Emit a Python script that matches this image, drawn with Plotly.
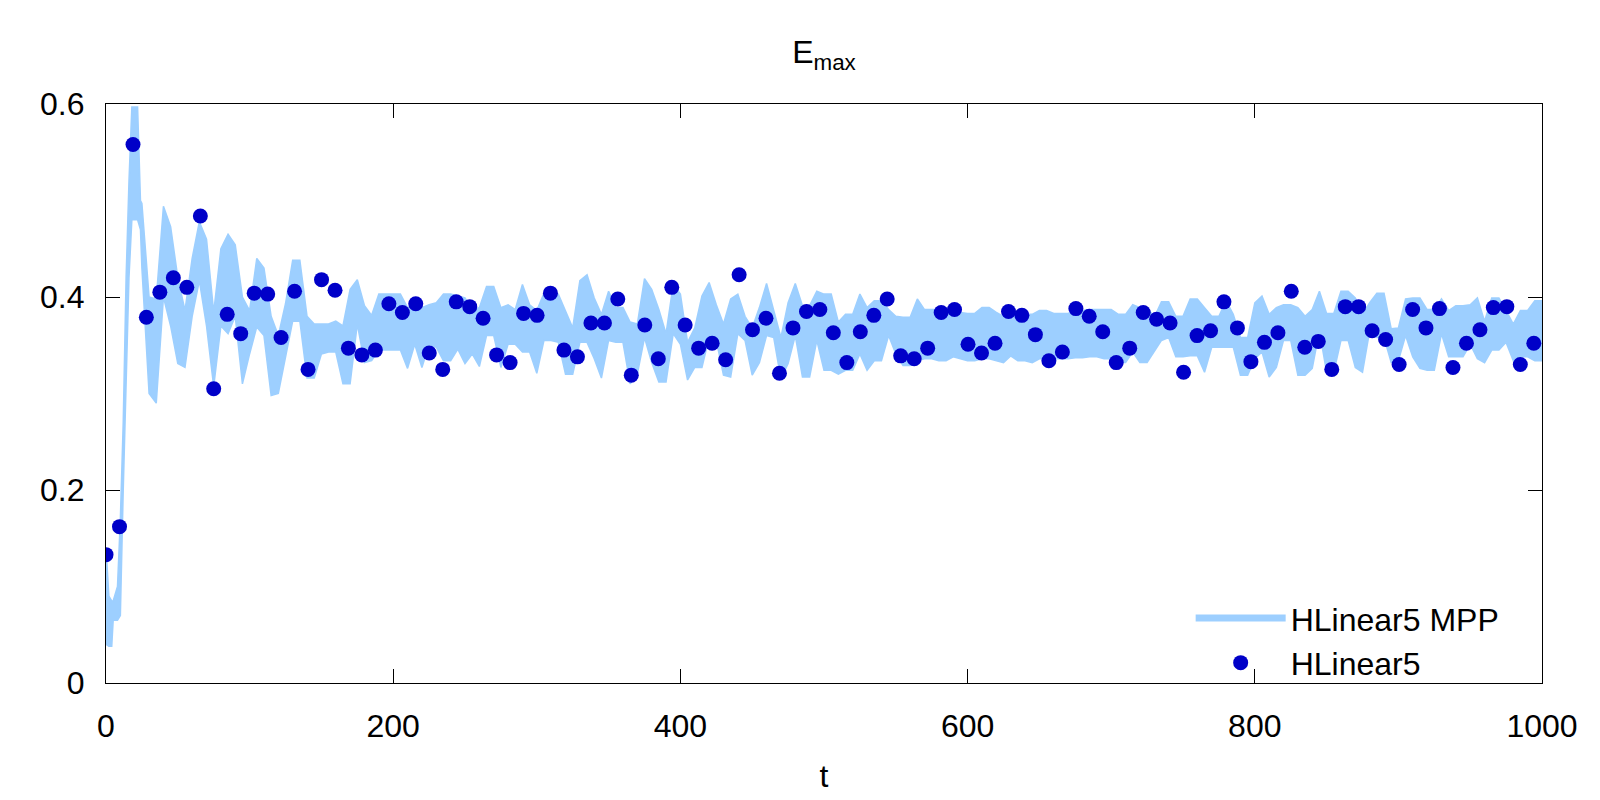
import plotly.graph_objects as go

# ---- HLinear5 (dots) ----
t_dots = [0, 9.4, 18.8, 28.1, 37.5, 46.9, 56.3, 65.7, 75.0, 84.4, 93.8, 103.2, 112.6, 121.9, 131.3,
          140.7, 150.1, 159.5, 168.8, 178.2, 187.6, 197.0, 206.4, 215.7, 225.1, 234.5, 243.9, 253.3,
          262.6, 272.0, 281.4, 290.8, 300.2, 309.5, 318.9, 328.3, 337.7, 347.1, 356.4, 365.8, 375.2,
          384.6, 394.0, 403.3, 412.7, 422.1, 431.5, 440.9, 450.2, 459.6, 469.0, 478.4, 487.8, 497.1,
          506.5, 515.9, 525.3, 534.7, 544.0, 553.4, 562.8, 572.2, 581.6, 590.9, 600.3, 609.7, 619.1,
          628.5, 637.8, 647.2, 656.6, 666.0, 675.4, 684.7, 694.1, 703.5, 712.9, 722.3, 731.6, 741.0,
          750.4, 759.8, 769.2, 778.5, 787.9, 797.3, 806.7, 816.1, 825.4, 834.8, 844.2, 853.6, 863.0,
          872.3, 881.7, 891.1, 900.5, 909.9, 919.2, 928.6, 938.0, 947.4, 956.8, 966.1, 975.5, 984.9,
          994.3]
e_dots = [0.133, 0.162, 0.558, 0.379, 0.405, 0.420, 0.410, 0.484, 0.305, 0.382, 0.362, 0.404, 0.403,
          0.358, 0.406, 0.325, 0.418, 0.407, 0.347, 0.340, 0.345, 0.393, 0.384, 0.393, 0.342, 0.325,
          0.395, 0.390, 0.378, 0.340, 0.332, 0.383, 0.381, 0.404, 0.345, 0.338, 0.373, 0.373, 0.398,
          0.319, 0.371, 0.336, 0.410, 0.371, 0.347, 0.352, 0.335, 0.423, 0.366, 0.378, 0.321, 0.368,
          0.385, 0.387, 0.363, 0.332, 0.364, 0.381, 0.398, 0.339, 0.336, 0.347, 0.384, 0.387, 0.351,
          0.342, 0.352, 0.385, 0.381, 0.361, 0.334, 0.343, 0.388, 0.380, 0.364, 0.332, 0.347, 0.384,
          0.377, 0.373, 0.322, 0.360, 0.365, 0.395, 0.368, 0.333, 0.353, 0.363, 0.406, 0.348, 0.354,
          0.325, 0.390, 0.390, 0.365, 0.356, 0.330, 0.387, 0.368, 0.388, 0.327, 0.352, 0.366, 0.389,
          0.390, 0.330, 0.352]

# ---- HLinear5 MPP (thick oscillating line, read as upper / lower envelope) ----
t_band = [0, 2, 4, 5, 8, 10, 12, 14, 16, 18, 20, 22, 24,
          25, 30, 35, 40, 45, 50, 55, 60, 65, 70, 75, 80, 85, 90, 95, 100,
          105, 110, 115, 120, 125, 130, 135, 140, 145, 150, 155, 160, 165, 170, 175, 180, 185, 190, 195, 200,
          205, 210, 215, 220, 225, 230, 235, 240, 245, 250, 255, 260, 265, 270, 275, 280, 285, 290, 295, 300,
          305, 310, 315, 320, 325, 330, 335, 340, 345, 350, 355, 360, 365, 370, 375, 380, 385, 390, 395, 400,
          405, 410, 415, 420, 425, 430, 435, 440, 445, 450, 455, 460, 465, 470, 475, 480, 485, 490, 495, 500,
          505, 510, 515, 520, 525, 530, 535, 540, 545, 550, 555, 560, 565, 570, 575, 580, 585, 590, 595, 600,
          605, 610, 615, 620, 625, 630, 635, 640, 645, 650, 655, 660, 665, 670, 675, 680, 685, 690, 695, 700,
          705, 710, 715, 720, 725, 730, 735, 740, 745, 750, 755, 760, 765, 770, 775, 780, 785, 790, 795, 800,
          805, 810, 815, 820, 825, 830, 835, 840, 845, 850, 855, 860, 865, 870, 875, 880, 885, 890, 895, 900,
          905, 910, 915, 920, 925, 930, 935, 940, 945, 950, 955, 960, 965, 970, 975, 980, 985, 990, 995, 1000]
e_hi = [0.140, 0.090, 0.085, 0.085, 0.100, 0.170, 0.270, 0.420, 0.520, 0.597, 0.597, 0.597, 0.500,
        0.497, 0.400, 0.398, 0.494, 0.473, 0.420, 0.386, 0.440, 0.478, 0.460, 0.384, 0.450, 0.465, 0.454, 0.400, 0.386,
        0.440, 0.430, 0.380, 0.360, 0.393, 0.438, 0.438, 0.380, 0.372, 0.372, 0.372, 0.375, 0.370, 0.408, 0.418, 0.391, 0.381, 0.403, 0.403, 0.403,
        0.403, 0.389, 0.391, 0.389, 0.392, 0.394, 0.403, 0.403, 0.401, 0.399, 0.387, 0.389, 0.411, 0.411, 0.389, 0.392, 0.387, 0.413, 0.392, 0.386,
        0.404, 0.404, 0.403, 0.386, 0.368, 0.417, 0.423, 0.399, 0.382, 0.406, 0.389, 0.389, 0.374, 0.372, 0.419, 0.408, 0.387, 0.362, 0.413, 0.403,
        0.353, 0.368, 0.401, 0.415, 0.392, 0.372, 0.398, 0.403, 0.380, 0.368, 0.389, 0.414, 0.386, 0.358, 0.394, 0.414, 0.391, 0.391, 0.406, 0.403,
        0.403, 0.374, 0.382, 0.382, 0.403, 0.389, 0.396, 0.396, 0.387, 0.380, 0.379, 0.379, 0.398, 0.387, 0.387, 0.387, 0.387, 0.384, 0.384, 0.383,
        0.383, 0.389, 0.389, 0.384, 0.380, 0.384, 0.382, 0.382, 0.382, 0.386, 0.386, 0.383, 0.383, 0.383, 0.386, 0.386, 0.387, 0.387, 0.387, 0.387,
        0.382, 0.382, 0.392, 0.389, 0.389, 0.379, 0.395, 0.395, 0.380, 0.380, 0.398, 0.398, 0.389, 0.380, 0.380, 0.396, 0.382, 0.358, 0.358, 0.394,
        0.401, 0.382, 0.389, 0.392, 0.392, 0.389, 0.380, 0.387, 0.406, 0.383, 0.383, 0.406, 0.406, 0.399, 0.382, 0.394, 0.404, 0.404, 0.367, 0.368,
        0.398, 0.399, 0.399, 0.387, 0.387, 0.398, 0.386, 0.391, 0.391, 0.392, 0.399, 0.375, 0.399, 0.399, 0.386, 0.372, 0.386, 0.386, 0.396, 0.396]
e_lo = [0.040, 0.038, 0.038, 0.065, 0.065, 0.070, 0.200, 0.300, 0.420, 0.480, 0.480, 0.480, 0.470,
        0.430, 0.300, 0.290, 0.400, 0.370, 0.331, 0.327, 0.380, 0.417, 0.370, 0.307, 0.370, 0.362, 0.380, 0.310, 0.341,
        0.369, 0.360, 0.298, 0.300, 0.336, 0.375, 0.375, 0.316, 0.316, 0.341, 0.343, 0.343, 0.310, 0.310, 0.372, 0.332, 0.334, 0.345, 0.345, 0.345,
        0.345, 0.326, 0.351, 0.327, 0.351, 0.348, 0.334, 0.334, 0.346, 0.331, 0.341, 0.328, 0.360, 0.360, 0.327, 0.351, 0.351, 0.343, 0.343, 0.321,
        0.355, 0.355, 0.353, 0.320, 0.320, 0.353, 0.353, 0.336, 0.316, 0.355, 0.353, 0.353, 0.310, 0.320, 0.358, 0.332, 0.312, 0.312, 0.362, 0.351,
        0.314, 0.327, 0.327, 0.358, 0.355, 0.319, 0.317, 0.362, 0.355, 0.319, 0.332, 0.360, 0.358, 0.315, 0.331, 0.360, 0.317, 0.317, 0.355, 0.324,
        0.324, 0.320, 0.324, 0.324, 0.341, 0.324, 0.334, 0.334, 0.360, 0.341, 0.329, 0.329, 0.334, 0.336, 0.336, 0.334, 0.334, 0.338, 0.336, 0.334,
        0.334, 0.336, 0.336, 0.334, 0.332, 0.339, 0.334, 0.334, 0.332, 0.336, 0.336, 0.336, 0.336, 0.336, 0.337, 0.337, 0.338, 0.338, 0.336, 0.336,
        0.332, 0.332, 0.343, 0.332, 0.332, 0.343, 0.355, 0.358, 0.338, 0.338, 0.339, 0.339, 0.322, 0.348, 0.348, 0.348, 0.348, 0.319, 0.319, 0.336,
        0.343, 0.317, 0.327, 0.355, 0.355, 0.319, 0.319, 0.326, 0.365, 0.322, 0.322, 0.355, 0.355, 0.327, 0.322, 0.365, 0.358, 0.358, 0.332, 0.334,
        0.360, 0.338, 0.326, 0.324, 0.324, 0.362, 0.338, 0.338, 0.338, 0.351, 0.336, 0.332, 0.345, 0.345, 0.353, 0.334, 0.338, 0.338, 0.334, 0.334]

x_ticks = [0, 200, 400, 600, 800, 1000]
y_ticks = [0, 0.2, 0.4, 0.6]
y_tick_text = ["0", "0.2", "0.4", "0.6"]

BAND = "#9dcfff"
DOT = "#0000c8"
FONT = "Liberation Sans, Arial, Helvetica, sans-serif"

fig = go.Figure()
fig.add_trace(go.Scatter(x=t_band, y=e_lo, mode="lines", line=dict(color=BAND, width=1.5),
                         showlegend=False, hoverinfo="skip"))
fig.add_trace(go.Scatter(x=t_band, y=e_hi, mode="lines", line=dict(color=BAND, width=1.5),
                         fill="tonexty", fillcolor=BAND, showlegend=False, hoverinfo="skip"))
# legend entries
fig.add_trace(go.Scatter(x=[None], y=[None], mode="lines", name="HLinear5 MPP",
                         line=dict(color=BAND, width=7)))
fig.add_trace(go.Scatter(x=t_dots, y=e_dots, mode="markers", name="HLinear5",
                         marker=dict(color=DOT, size=15, line=dict(width=0))))

axis_common = dict(showline=True, linecolor="black", linewidth=1.2, mirror="ticks",
                   ticks="inside", ticklen=14, tickwidth=1.2, tickcolor="black",
                   showgrid=False, zeroline=False,
                   tickfont=dict(family=FONT, size=32, color="black"))

fig.update_layout(
    width=1600, height=800,
    margin=dict(l=106, r=58, t=104, b=111),
    paper_bgcolor="white", plot_bgcolor="white",
    font=dict(family=FONT, size=32, color="black"),
    title=dict(text="E<sub>max</sub>", x=0.515, xanchor="center", y=0.935, yanchor="middle",
               font=dict(family=FONT, size=32, color="black")),
    xaxis=dict(range=[0, 1000], tickvals=x_ticks, ticklabelstandoff=14,
               title=dict(text="t", standoff=22, font=dict(family=FONT, size=32)),
               **axis_common),
    yaxis=dict(range=[0, 0.6], tickvals=y_ticks, ticktext=y_tick_text, ticklabelstandoff=14,
               **axis_common),
    legend=dict(x=0.974, xanchor="right", y=0.073, yanchor="middle", traceorder="normal",
                bgcolor="rgba(0,0,0,0)", font=dict(family=FONT, size=32),
                itemwidth=90, tracegroupgap=0),
)

fig.write_html("out.html")
